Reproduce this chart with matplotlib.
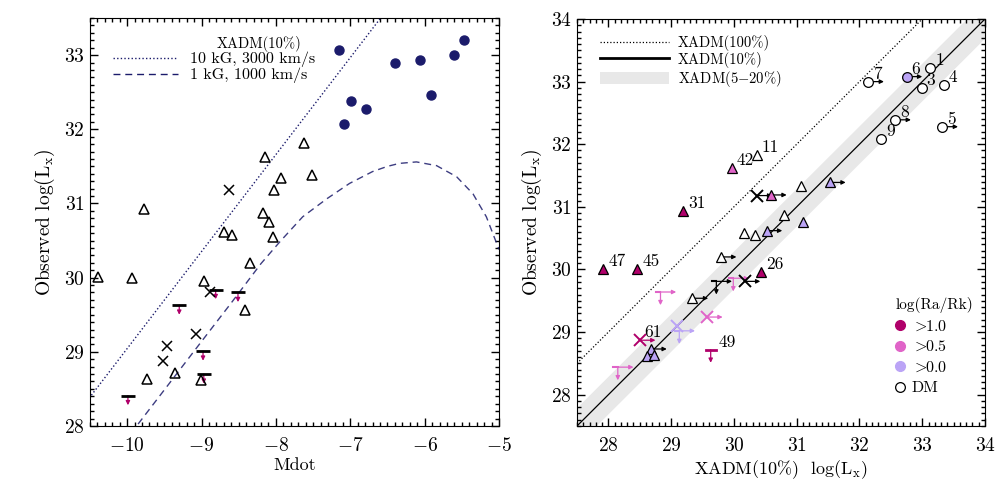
import matplotlib
matplotlib.use('Agg')
import matplotlib.pyplot as plt
from matplotlib.lines import Line2D
from matplotlib.patches import Patch
from matplotlib.ticker import MultipleLocator

plt.rcParams['font.family'] = 'serif'
plt.rcParams['font.serif'] = ['cmr10', 'DejaVu Serif']
plt.rcParams['mathtext.fontset'] = 'cm'
plt.rcParams['axes.formatter.use_mathtext'] = True

NAVY = '#1b1b6b'
C_HI = '#b0006a'
C_MID = '#e064c8'
C_LO = '#bba4f6'
cls_col = {'hi': C_HI, 'mid': C_MID, 'lo': C_LO, 'none': 'white', 'k': 'black'}

# ---- left panel: observed Lx vs Mdot ----
hot_mdot = [-7.15, -7.08, -6.99, -6.79, -6.40, -6.06, -5.92, -5.60, -5.47]
hot_lx = [33.07, 32.07, 32.38, 32.28, 32.89, 32.94, 32.46, 33.00, 33.20]

tri_mdot = [-9.77, -8.14, -7.62, -7.93, -7.52, -8.02, -8.18, -8.09, -8.70, -8.59,
            -8.04, -10.39, -9.94, -8.97, -8.35, -8.42, -9.73, -9.36, -9.01]
tri_lx = [30.93, 31.63, 31.82, 31.34, 31.38, 31.18, 30.87, 30.75, 30.61, 30.58,
          30.55, 30.01, 30.00, 29.95, 30.20, 29.56, 28.63, 28.71, 28.62]

cross_mdot = [-8.63, -8.89, -9.08, -9.46, -9.52]
cross_lx = [31.18, 29.81, 29.24, 29.08, 28.87]

ul_mdot = [-9.30, -8.81, -8.51, -8.98, -8.97, -9.99]
ul_lx = [29.63, 29.84, 29.80, 29.01, 28.70, 28.41]

# model curves
strong_mdot = [-10.6, -6.5]
strong_lx = [28.26, 33.62]
weak_mdot = [-9.95, -9.0, -8.6, -8.20, -7.95, -7.64, -7.32, -7.01, -6.70, -6.50,
             -6.34, -6.11, -5.84, -5.57, -5.35, -5.17, -5.0]
weak_lx = [27.90, 29.14, 29.66, 30.19, 30.48, 30.82, 31.06, 31.27, 31.43, 31.50,
           31.54, 31.56, 31.51, 31.36, 31.13, 30.82, 30.38]

# ---- right panel: observed Lx vs XADM(10%) Lx ----
diag = [27.5, 34.0]
band_half = 0.3

dm_x = [33.13, 32.99, 33.35, 33.32, 32.75, 32.14, 32.57, 32.35]
dm_y = [33.21, 32.90, 32.95, 32.28, 33.08, 33.00, 32.39, 32.09]
dm_cls = ['none', 'none', 'none', 'none', 'lo', 'none', 'none', 'none']
dm_arrow = [0, 0, 0, 1, 1, 1, 1, 0]
dm_lab = ['1', '3', '4', '5', '6', '7', '8', '9']

rt_x = [30.36, 29.97, 29.19, 30.59, 31.07, 31.53, 30.79, 31.10, 30.16, 30.34,
        30.52, 29.79, 27.92, 28.46, 30.43, 29.34, 28.68, 28.61, 28.73]
rt_y = [31.83, 31.62, 30.94, 31.19, 31.33, 31.39, 30.87, 30.75, 30.58, 30.55,
        30.62, 30.20, 30.01, 30.00, 29.96, 29.54, 28.73, 28.62, 28.63]
rt_cls = ['none', 'mid', 'hi', 'mid', 'none', 'lo', 'none', 'lo', 'none', 'none',
          'lo', 'none', 'hi', 'hi', 'hi', 'none', 'lo', 'lo', 'lo']
rt_arrow = [0, 0, 0, 1, 0, 1, 0, 0, 0, 0, 1, 1, 0, 0, 0, 1, 1, 0, 0]
rt_lab = ['11', '42', '31', '', '', '', '', '', '', '', '', '', '47', '45', '26', '', '', '', '']

rx_x = [30.36, 30.17, 29.57, 29.09, 28.50]
rx_y = [31.18, 29.81, 29.24, 29.09, 28.87]
rx_cls = ['k', 'k', 'mid', 'lo', 'hi']
rx_arrow = [1, 1, 1, 0, 1]
rx_lab = ['', '', '', '', '61']

rl_x = [29.72, 29.99, 28.83, 29.13, 28.15, 29.63]
rl_y = [29.81, 29.86, 29.64, 29.02, 28.44, 28.72]
rl_cls = ['k', 'mid', 'mid', 'lo', 'mid', 'hi']
rl_arrow = [1, 1, 1, 1, 1, 0]
rl_lab = ['', '', '', '', '', '49']


def arrow(ax, x0, y0, x1, y1, c):
    ax.annotate('', xy=(x1, y1), xytext=(x0, y0),
                arrowprops=dict(arrowstyle='-|>', color=c, lw=0.9,
                                mutation_scale=6, shrinkA=0, shrinkB=0),
                zorder=2)


def label(ax, x, y, s):
    if s:
        ax.annotate(s, (x, y), xytext=(3.5, 5.5), textcoords='offset points',
                    ha='left', va='center', fontsize=12.5)


def style(ax):
    ax.xaxis.set_major_locator(MultipleLocator(1))
    ax.xaxis.set_minor_locator(MultipleLocator(0.1))
    ax.yaxis.set_major_locator(MultipleLocator(1))
    ax.yaxis.set_minor_locator(MultipleLocator(0.1))
    ax.tick_params(which='both', direction='in', top=True, right=True, width=1)
    ax.tick_params(which='major', length=6, labelsize=14)
    ax.tick_params(which='minor', length=3)
    ax.tick_params(axis='x', pad=8)
    ax.tick_params(axis='y', pad=4)


fig = plt.figure(figsize=(10.02, 4.88), dpi=100)
ax1 = fig.add_axes([90 / 1002, 62 / 488, 409 / 1002, 408 / 488])
ax2 = fig.add_axes([577 / 1002, 62 / 488, 408 / 1002, 407 / 488])

# left
ax1.plot(strong_mdot, strong_lx, color=NAVY, lw=1, ls=(0, (1, 1.6)))
ax1.plot(weak_mdot, weak_lx, color=NAVY, lw=1, ls=(0, (5, 3.5)), alpha=0.85)
ax1.plot(hot_mdot, hot_lx, 'o', ms=6.5, color=NAVY, zorder=3)
ax1.plot(tri_mdot, tri_lx, '^', ms=7, mfc='none', mec='k', mew=1.1, zorder=3)
ax1.plot(cross_mdot, cross_lx, 'x', ms=7.5, mec='k', mew=1.1, zorder=3)
for m, l in zip(ul_mdot, ul_lx):
    arrow(ax1, m, l, m, l - 0.13, C_HI)
    ax1.plot([m], [l], '_', ms=10, mew=2, color='k', zorder=3)

ax1.set_xlim(-10.5, -5)
ax1.set_ylim(28, 33.5)
style(ax1)
ax1.set_xlabel('Mdot', fontsize=13, labelpad=2)
ax1.set_ylabel(r'Observed log(L$_\mathrm{x}$)', fontsize=14, labelpad=5)

h1 = [Line2D([], [], color=NAVY, lw=1, ls=(0, (1, 1.6))),
      Line2D([], [], color=NAVY, lw=1, ls=(0, (5, 3.5)))]
ax1.legend(h1, ['10 kG, 3000 km/s', '1 kG, 1000 km/s'], loc='upper left',
           bbox_to_anchor=(0.056, 0.917), frameon=False, fontsize=11.5,
           handlelength=4.1, handletextpad=0.75, labelspacing=0.02,
           borderpad=0, borderaxespad=0)
ax1.text(0.413, 0.936, 'XADM(10%)', transform=ax1.transAxes, ha='center',
         va='center', fontsize=10.5)

# right
ax2.fill_between(diag, [d - band_half for d in diag], [d + band_half for d in diag],
                 color='#e8e8e8', lw=0, zorder=0)
ax2.plot(diag, diag, color='k', lw=0.9, zorder=1)
ax2.plot(diag, [d + 1 for d in diag], color='k', lw=0.9, ls=(0, (1, 1.6)), zorder=1)

for x, y, c, a, s in zip(dm_x, dm_y, dm_cls, dm_arrow, dm_lab):
    if a:
        arrow(ax2, x, y, x + 0.25, y, 'k')
    ax2.plot([x], [y], 'o', ms=7, mfc=cls_col[c], mec='k', mew=0.9, zorder=3)
    label(ax2, x, y, s)

for x, y, c, a, s in zip(rt_x, rt_y, rt_cls, rt_arrow, rt_lab):
    if a:
        arrow(ax2, x, y, x + 0.25, y, 'k')
    ax2.plot([x], [y], '^', ms=7, mfc=cls_col[c], mec='k', mew=0.9, zorder=3)
    label(ax2, x, y, s)

for x, y, c, a, s in zip(rx_x, rx_y, rx_cls, rx_arrow, rx_lab):
    col = cls_col[c]
    if a:
        arrow(ax2, x, y, x + 0.25, y, col)
    ax2.plot([x], [y], 'x', ms=8, mec=col, mew=1.4, zorder=3)
    label(ax2, x, y, s)

for x, y, c, a, s in zip(rl_x, rl_y, rl_cls, rl_arrow, rl_lab):
    col = cls_col[c]
    arrow(ax2, x, y, x, y - 0.21, col)
    if a:
        ax2.plot([x - 0.07, x], [y, y], color=col, lw=1.5, zorder=2)
        arrow(ax2, x, y, x + 0.25, y, col)
    else:
        ax2.plot([x - 0.08, x + 0.08], [y, y], color=col, lw=2, zorder=2)
    label(ax2, x + 0.05, y, s)

ax2.set_xlim(27.5, 34)
ax2.set_ylim(27.5, 34)
style(ax2)
ax2.set_xlabel(r'XADM(10%)  log(L$_\mathrm{x}$)', fontsize=13, labelpad=2)
ax2.set_ylabel(r'Observed log(L$_\mathrm{x}$)', fontsize=14, labelpad=5)

h2 = [Line2D([], [], color='k', lw=0.9, ls=(0, (1, 1.6))),
      Line2D([], [], color='k', lw=2),
      Patch(facecolor='#e8e8e8', edgecolor='none')]
leg2 = ax2.legend(h2, ['XADM(100%)', 'XADM(10%)', r'XADM(5$-$20%)'], loc='upper left',
                  bbox_to_anchor=(0.056, 0.96), frameon=False, fontsize=10.5,
                  handlelength=4.75, handletextpad=0.6, labelspacing=0.05,
                  handleheight=0.9, borderpad=0, borderaxespad=0)
ax2.add_artist(leg2)

h3 = [Line2D([], [], marker='o', ls='none', ms=7, mfc=C_HI, mec=C_HI),
      Line2D([], [], marker='o', ls='none', ms=7, mfc=C_MID, mec=C_MID),
      Line2D([], [], marker='o', ls='none', ms=7, mfc=C_LO, mec=C_LO),
      Line2D([], [], marker='o', ls='none', ms=7, mfc='white', mec='k', mew=0.9)]
ax2.legend(h3, [r'$>\!\!1.0$', r'$>\!\!0.5$', r'$>\!\!0.0$', 'DM'], title='log(Ra/Rk)',
           loc='lower left', bbox_to_anchor=(0.78, 0.075), frameon=False,
           fontsize=11.5, title_fontsize=11, handlelength=0.6,
           handletextpad=0.45, labelspacing=0.4, borderpad=0, borderaxespad=0,
           alignment='left')

fig.savefig('out.png', dpi=100)
